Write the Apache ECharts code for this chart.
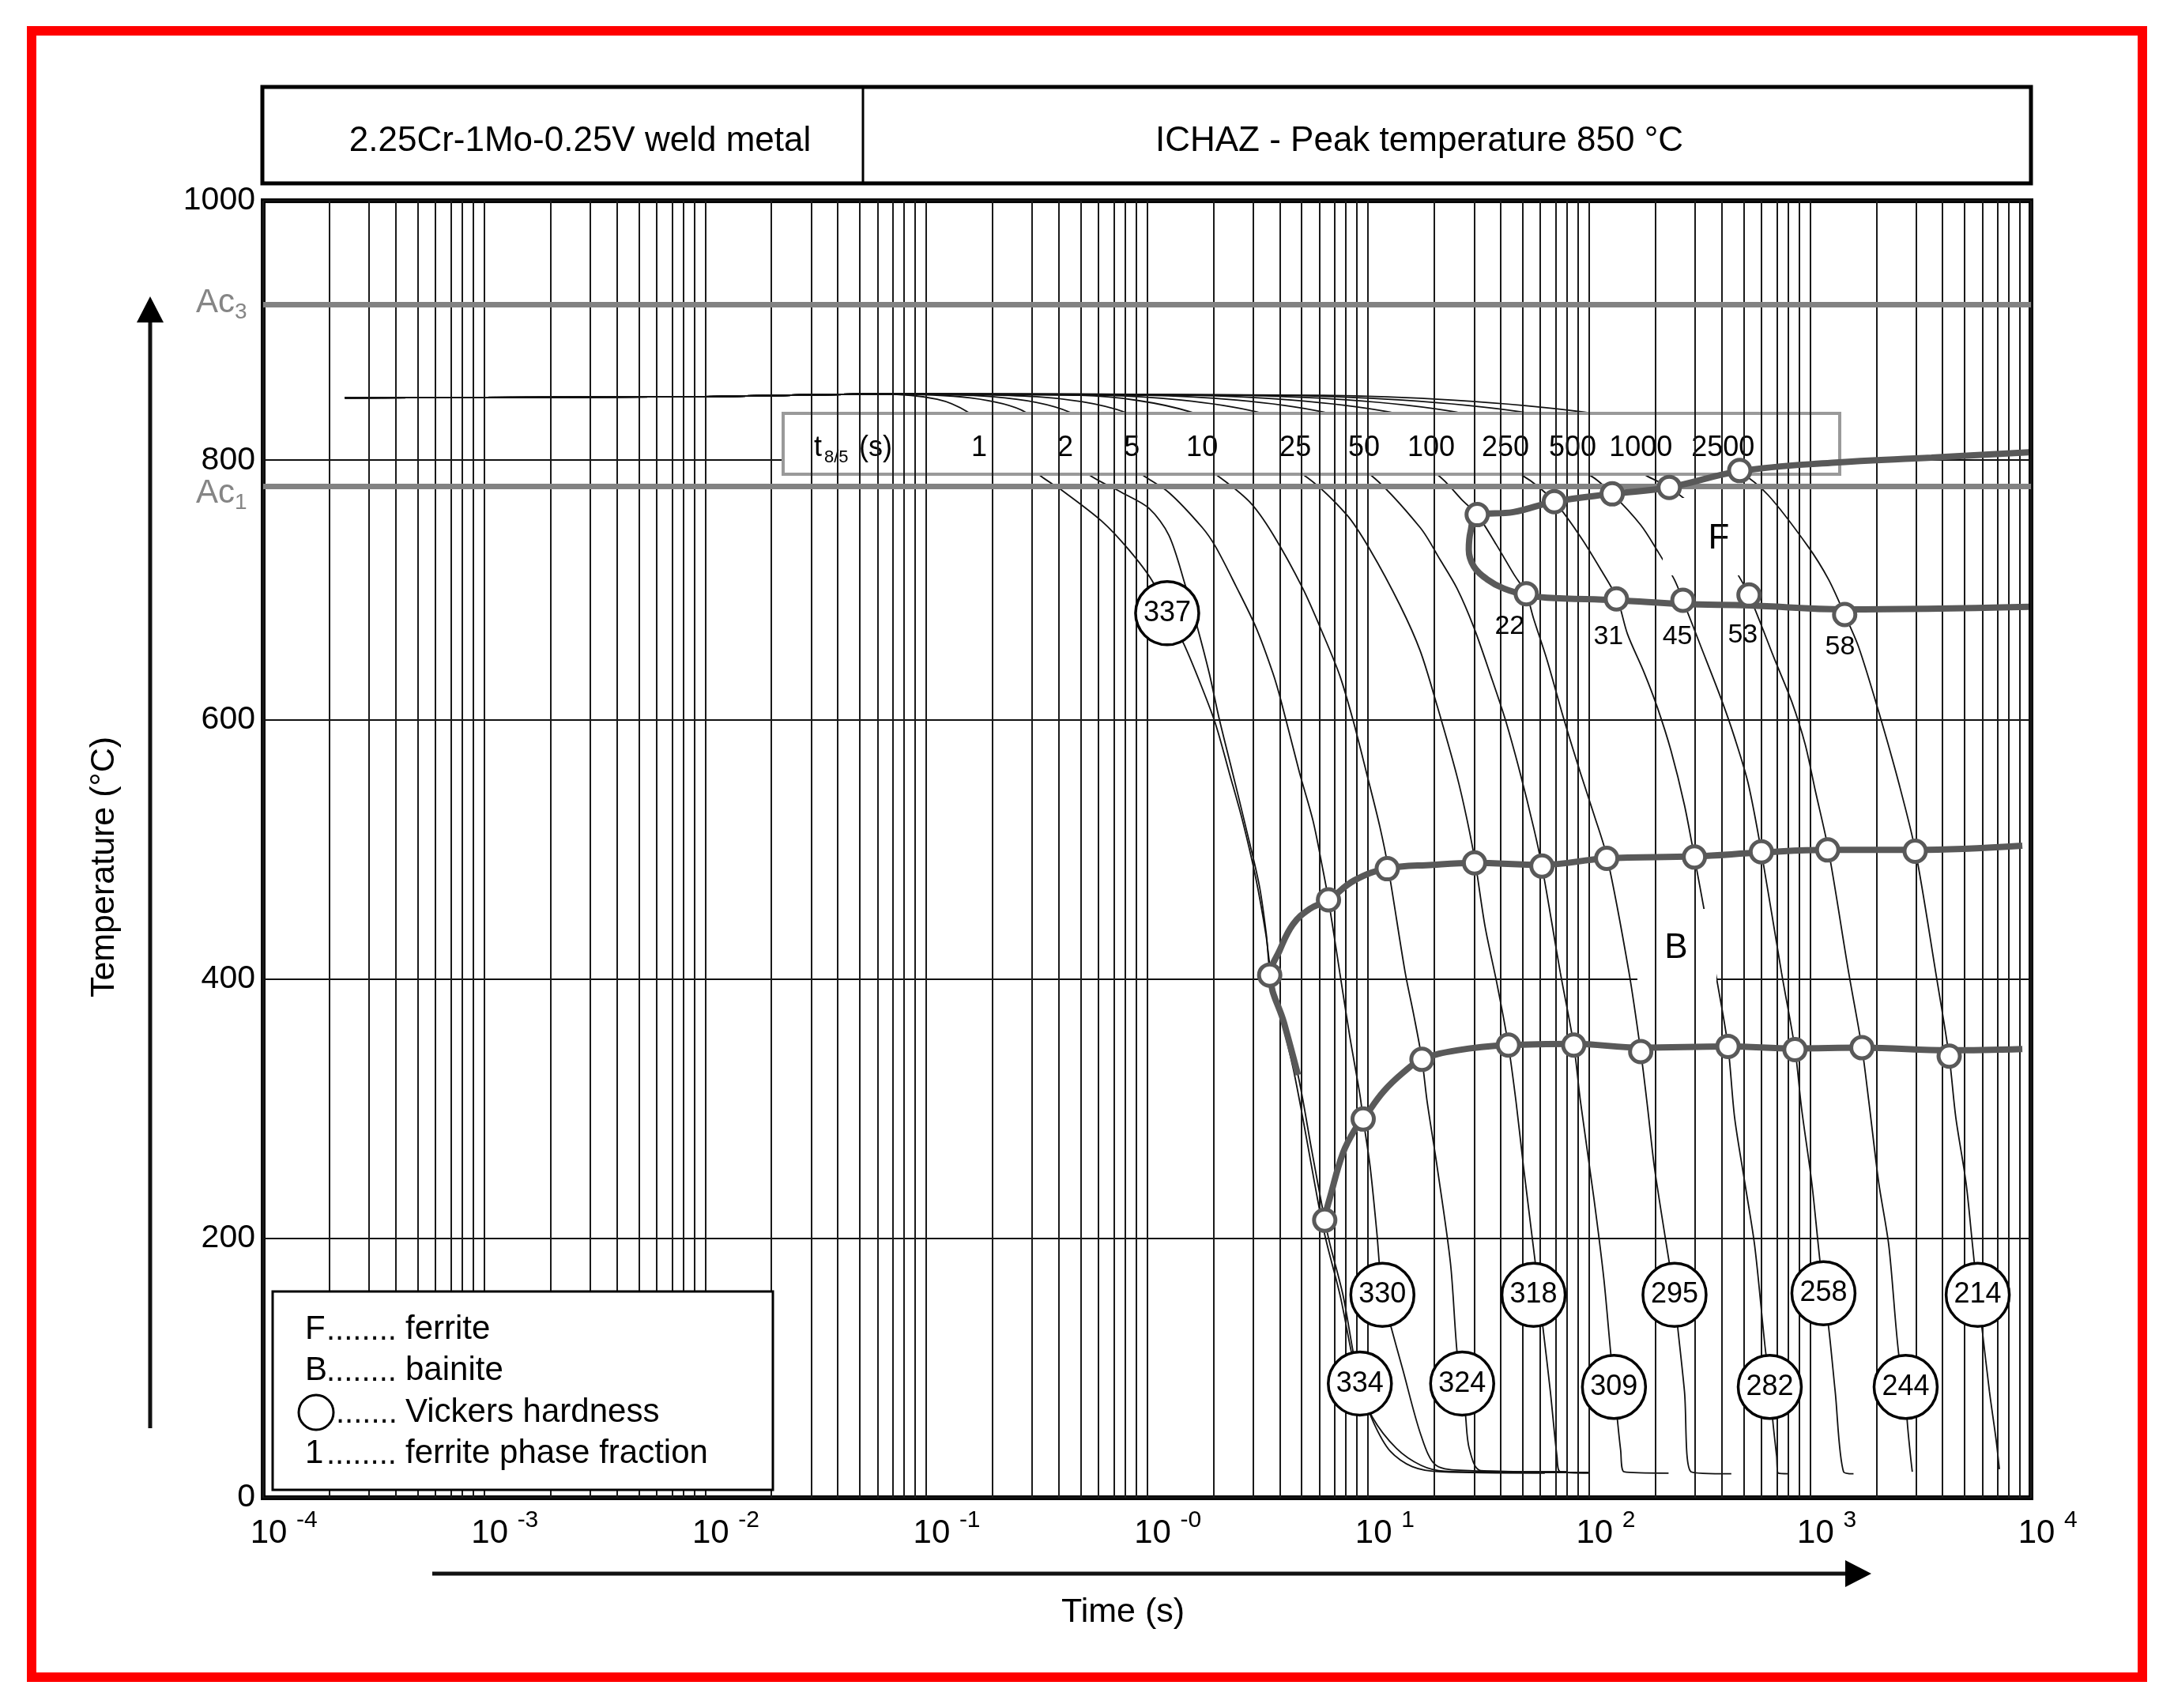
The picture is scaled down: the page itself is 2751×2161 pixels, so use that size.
<!DOCTYPE html>
<html>
<head>
<meta charset="utf-8">
<style>
  html, body { margin: 0; padding: 0; background: #fff; }
  #main { width: 2751px; height: 2161px; }
</style>
<script src="https://cdn.jsdelivr.net/npm/echarts/dist/echarts.min.js"></script>
</head>
<body>
<div id="main"></div>
<script>
// x values are log10(time / s), y values are temperature in °C
const xTickExp = ['-4', '-3', '-2', '-1', '-0', '1', '2', '3', '4']
const t85Labels = ['1', '2', '5', '10', '25', '50', '100', '250', '500', '1000', '2500']
const t85LabelX = [-0.76, -0.37, -0.069, 0.249, 0.671, 0.982, 1.286, 1.622, 1.926, 2.234, 2.606]
const ac3 = 920
const ac1 = 780

// cooling curves, one per t8/5
const curve1 = [[-3.63, 848], [-2.0, 849], [-1.2, 851], [-0.95, 847], [-0.81, 837], [-0.62, 812], [-0.49, 789], [-0.387, 777], [-0.205, 753], [-0.083, 731], [0.023, 707], [0.091, 682], [0.167, 658], [0.25, 624], [0.311, 596], [0.372, 559], [0.432, 522], [0.493, 477], [0.538, 434], [0.565, 400], [0.665, 328], [0.785, 218], [0.815, 195], [0.875, 155], [0.925, 112], [0.96, 88], [1.025, 58], [1.1, 36], [1.2, 24], [1.33, 20], [1.8, 19]]
const curve2 = [[-3.63, 848], [-2.0, 849], [-1.2, 851], [-0.8, 848], [-0.55, 837], [-0.4, 810], [-0.265, 789], [-0.114, 775], [0.008, 763], [0.099, 742], [0.174, 703], [0.228, 671], [0.281, 636], [0.326, 601], [0.387, 559], [0.447, 517], [0.508, 472], [0.54, 434], [0.558, 403], [0.62, 365], [0.683, 326], [0.745, 268], [0.804, 214], [0.827, 196], [0.887, 156], [0.933, 112], [0.963, 88], [1.02, 62], [1.129, 38], [1.24, 25], [1.347, 20.5], [1.8, 19.5], [2.0, 19.5]]
const curve3 = [[-3.63, 848], [-2.0, 849], [-1.2, 851], [-0.7, 849], [-0.35, 837], [-0.15, 808], [-0.023, 789], [0.099, 775], [0.25, 748], [0.311, 733], [0.402, 703], [0.493, 671], [0.569, 636], [0.607, 614], [0.69, 559], [0.751, 522], [0.796, 484], [0.821, 461], [0.872, 405], [0.918, 355], [0.963, 311], [0.978, 292], [1.009, 256], [1.039, 206], [1.065, 157], [1.102, 133], [1.157, 99], [1.24, 48], [1.308, 25], [1.458, 21], [1.9, 20]]
const curve4 = [[-3.63, 848], [-2.0, 849], [-1.2, 851], [-0.5, 849], [-0.1, 837], [0.12, 810], [0.311, 789], [0.463, 768], [0.569, 743], [0.705, 701], [0.796, 666], [0.872, 634], [0.933, 599], [0.993, 559], [1.054, 517], [1.092, 485], [1.168, 405], [1.206, 373], [1.244, 338], [1.267, 306], [1.312, 256], [1.373, 181], [1.403, 112], [1.426, 88], [1.441, 64], [1.458, 38], [1.51, 21], [1.9, 20]]
const curve5 = [[-3.63, 848], [-2.0, 849], [-1.2, 851], [-0.3, 850], [0.2, 837], [0.45, 810], [0.705, 789], [0.903, 758], [1.009, 731], [1.145, 688], [1.236, 653], [1.312, 611], [1.403, 556], [1.449, 522], [1.486, 489], [1.53, 440], [1.585, 395], [1.635, 349], [1.67, 305], [1.703, 256], [1.757, 181], [1.791, 132], [1.825, 82], [1.855, 32], [1.87, 20], [2.0, 19]]
const curve6 = [[-3.63, 848], [-2.0, 849], [-1.2, 851], [-0.2, 850], [0.5, 837], [0.78, 810], [1.009, 789], [1.236, 748], [1.327, 723], [1.403, 701], [1.479, 671], [1.555, 634], [1.623, 599], [1.688, 559], [1.749, 517], [1.787, 487], [1.83, 445], [1.87, 405], [1.931, 349], [1.961, 306], [2.022, 231], [2.067, 169], [2.098, 112], [2.128, 61], [2.143, 37], [2.159, 20], [2.36, 19]]
const curve7 = [[-3.63, 848], [-2.0, 849], [-1.2, 851], [0.0, 850], [0.8, 837], [1.05, 812], [1.312, 789], [1.433, 768], [1.494, 758], [1.58, 735], [1.66, 712], [1.716, 697], [1.749, 678], [1.81, 646], [1.885, 601], [1.961, 559], [2.022, 527], [2.083, 493], [2.181, 405], [2.234, 344], [2.265, 301], [2.295, 256], [2.34, 206], [2.386, 156], [2.401, 132], [2.432, 82], [2.462, 20], [2.644, 18.5]]
const curve8 = [[-3.63, 848], [-2.0, 849], [-1.2, 851], [0.2, 850], [1.1, 837], [1.4, 812], [1.7, 788], [1.843, 768], [1.961, 741], [2.052, 716], [2.128, 693], [2.174, 666], [2.25, 636], [2.31, 609], [2.371, 576], [2.432, 534], [2.477, 494], [2.53, 445], [2.583, 395], [2.629, 348], [2.659, 293], [2.705, 243], [2.75, 194], [2.795, 119], [2.818, 86], [2.833, 57], [2.849, 32], [2.856, 19], [2.902, 18.5]]
const curve9 = [[-3.63, 848], [-2.0, 849], [-1.2, 851], [0.4, 850], [1.4, 837], [1.7, 812], [2.007, 788], [2.105, 774], [2.234, 750], [2.31, 730], [2.386, 708], [2.427, 691], [2.507, 656], [2.598, 616], [2.659, 586], [2.72, 551], [2.78, 498], [2.871, 405], [2.932, 346], [2.962, 300], [3.008, 243], [3.038, 194], [3.061, 158], [3.084, 132], [3.114, 82], [3.152, 20], [3.197, 18.5]]
const curve10 = [[-3.63, 848], [-2.0, 849], [-1.2, 851], [0.6, 850], [1.7, 837], [2.0, 815], [2.26, 788], [2.363, 779], [2.477, 763], [2.568, 740], [2.659, 716], [2.724, 696], [2.841, 646], [2.917, 614], [2.978, 581], [3.023, 546], [3.084, 499], [3.175, 405], [3.235, 347], [3.266, 306], [3.311, 243], [3.357, 194], [3.402, 110], [3.433, 86], [3.44, 59], [3.455, 32], [3.463, 20]]
const curve11 = [[-3.63, 848], [-2.0, 849], [-1.2, 851], [0.8, 850], [1.98, 837], [2.35, 815], [2.6, 795], [2.682, 791], [2.811, 773], [2.993, 733], [3.084, 708], [3.157, 681], [3.22, 656], [3.311, 606], [3.402, 551], [3.478, 498], [3.569, 405], [3.63, 340], [3.66, 293], [3.706, 243], [3.736, 194], [3.759, 156], [3.781, 127], [3.812, 82], [3.842, 45], [3.857, 22]]

// transformation lines
const ferriteLine = [[3.99, 806], [3.55, 802], [3.1, 798], [2.682, 791.5], [2.363, 779], [2.105, 774], [1.843, 768], [1.658, 760], [1.494, 758], [1.464, 745], [1.456, 731], [1.479, 718], [1.54, 708], [1.615, 701], [1.716, 696], [1.81, 694], [2.128, 692], [2.427, 689], [2.724, 688], [3.157, 685], [3.99, 687]]
const bainiteStartLine = [[0.683, 326], [0.62, 366], [0.558, 403], [0.6, 422], [0.66, 442], [0.736, 454], [0.821, 461], [0.938, 476], [1.082, 485], [1.293, 488], [1.479, 489.5], [1.787, 488], [2.077, 493], [2.477, 494.5], [2.78, 497.5], [3.078, 499.5], [3.475, 499.5], [3.961, 502.7]]
const bainiteFinishLine = [[0.8, 214], [0.827, 231], [0.887, 266], [0.948, 286], [0.978, 292], [1.069, 313], [1.16, 328], [1.244, 338], [1.403, 345], [1.635, 349], [1.93, 350], [2.234, 347], [2.627, 348], [2.93, 346.5], [3.235, 347], [3.633, 345], [3.961, 346]]

const ferriteStartPts = [[1.494, 758], [1.843, 768], [2.105, 774], [2.363, 779], [2.682, 792]]
const ferriteFinishPts = [[1.716, 697], [2.124, 693], [2.425, 692], [2.724, 696], [3.157, 681]]
const bainiteStartPts = [[0.555, 403], [0.821, 461], [1.087, 485], [1.482, 489.5], [1.787, 487], [2.08, 493], [2.477, 494], [2.78, 498], [3.08, 499.5], [3.476, 498.5]]
const bainiteFinishPts = [[0.804, 214], [0.978, 292], [1.244, 338], [1.635, 349], [1.931, 349], [2.234, 344], [2.629, 348], [2.932, 345.5], [3.235, 347], [3.63, 340.5]]

const hardness = [337, 334, 330, 324, 318, 309, 295, 282, 258, 244, 214]
const hardnessPos = [[0.091, 682], [0.963, 88], [1.065, 156.5], [1.426, 88], [1.749, 156.5], [2.113, 85.5], [2.387, 156.4], [2.818, 85.5], [3.061, 157.7], [3.433, 85.5], [3.759, 156.4]]
const ferriteFraction = [22, 31, 45, 53, 58]
const ferriteFractionPos = [[1.641, 672], [2.088, 664], [2.4, 664], [2.696, 665], [3.136, 656]]

const FONT = '"Liberation Sans", Arial, Helvetica, sans-serif'
const coolingCurves = [curve1, curve2, curve3, curve4, curve5, curve6, curve7, curve8, curve9, curve10, curve11]

// vertical log grid lines: 1..9 x 10^d
const gridX = []
for (let d = -4; d < 4; d++) {
  for (let m = 1; m <= 9; m++) gridX.push(d + Math.log10(m))
}
gridX.push(4)

const chart = echarts.init(document.getElementById('main'))

const thickLine = (name, data) => ({
  name,
  type: 'line',
  data,
  z: 5,
  smooth: 0.4,
  showSymbol: false,
  silent: true,
  lineStyle: { width: 8, color: '#595959' }
})

const ringMarks = (data) => ({
  type: 'scatter',
  data,
  z: 6,
  symbol: 'circle',
  symbolSize: 27,
  silent: true,
  itemStyle: { color: '#fff', borderColor: '#595959', borderWidth: 5, opacity: 1 }
})

const option = {
  animation: false,
  backgroundColor: '#fff',
  grid: {
    left: 333,
    top: 254,
    width: 2237,
    height: 1641,
    show: true,
    borderColor: '#000',
    borderWidth: 6,
    backgroundColor: 'transparent'
  },
  xAxis: {
    type: 'value',
    min: -4,
    max: 4,
    interval: 1,
    axisLine: { show: false },
    axisTick: { show: false },
    axisLabel: { show: false },
    splitLine: { show: false }
  },
  yAxis: {
    type: 'value',
    min: 0,
    max: 1000,
    interval: 200,
    axisLine: { show: false },
    axisTick: { show: false },
    axisLabel: { fontSize: 41, color: '#000', margin: 10, fontFamily: FONT, formatter: v => String(v) },
    splitLine: { lineStyle: { color: '#111', width: 2 } }
  },
  series: [
    {
      type: 'line',
      data: [[-4, 0]],
      z: 1,
      showSymbol: false,
      silent: true,
      lineStyle: { width: 0 },
      markLine: {
        silent: true,
        symbol: ['none', 'none'],
        label: { show: false },
        lineStyle: { color: '#1a1a1a', width: 2, type: 'solid' },
        data: gridX.map(v => ({ xAxis: v }))
      }
    },
    {
      type: 'line',
      data: [[-4, 0]],
      z: 2,
      showSymbol: false,
      silent: true,
      lineStyle: { width: 0 },
      markLine: {
        silent: true,
        symbol: ['none', 'none'],
        label: { show: false },
        lineStyle: { color: '#828282', width: 7, type: 'solid' },
        data: [{ yAxis: ac3 }, { yAxis: ac1 }]
      }
    },
    ...coolingCurves.map((c, i) => ({
      name: 't85_' + t85Labels[i],
      type: 'line',
      data: c,
      z: 3,
      smooth: 0.3,
      showSymbol: false,
      silent: true,
      lineStyle: { width: 1.8, color: '#111' }
    })),
    thickLine('F', ferriteLine),
    thickLine('Bs', bainiteStartLine),
    thickLine('Bf', bainiteFinishLine),
    ringMarks(ferriteStartPts),
    ringMarks(ferriteFinishPts),
    ringMarks(bainiteStartPts),
    ringMarks(bainiteFinishPts),
    {
      type: 'scatter',
      data: hardnessPos.map((p, i) => ({ value: p, hv: hardness[i] })),
      z: 7,
      symbol: 'circle',
      symbolSize: 80,
      silent: true,
      itemStyle: { color: '#fff', borderColor: '#000', borderWidth: 3.5, opacity: 1 },
      label: {
        show: true,
        position: 'inside',
        formatter: p => String(p.data.hv),
        fontSize: 36,
        color: '#000',
        fontFamily: FONT
      }
    },
    {
      type: 'scatter',
      data: ferriteFractionPos.map((p, i) => ({ value: p, ff: ferriteFraction[i] })),
      z: 7,
      symbolSize: 1,
      silent: true,
      itemStyle: { color: 'rgba(0,0,0,0)', opacity: 1 },
      label: {
        show: true,
        position: 'inside',
        formatter: p => String(p.data.ff),
        fontSize: 34,
        color: '#000',
        opacity: 1,
        fontFamily: FONT
      }
    }
  ]
}

chart.setOption(option)

const px = (x, y) => chart.convertToPixel({ gridIndex: 0 }, [x, y])
const txt = (text, x, y, size, opts = {}) => ({
  type: 'text',
  x,
  y,
  z: opts.z || 8,
  rotation: opts.rotation || 0,
  silent: true,
  style: {
    text,
    font: size + 'px ' + FONT,
    fill: opts.color || '#000',
    align: opts.align || 'center',
    textAlign: opts.align || 'center',
    verticalAlign: 'middle',
    textVerticalAlign: 'middle'
  }
})

const g = []
// outer red frame
g.push({ type: 'rect', z: 9, silent: true, shape: { x: 40, y: 39, width: 2671, height: 2083 }, style: { fill: 'none', stroke: '#ff0000', lineWidth: 12 } })
// header boxes
g.push({ type: 'rect', z: 8, silent: true, shape: { x: 332, y: 110, width: 2238, height: 122 }, style: { fill: '#fff', stroke: '#000', lineWidth: 5 } })
g.push({ type: 'line', z: 8, silent: true, shape: { x1: 1092, y1: 110, x2: 1092, y2: 232 }, style: { stroke: '#000', lineWidth: 3 } })
g.push(txt('2.25Cr-1Mo-0.25V weld metal', 734, 179, 44))
g.push(txt('ICHAZ - Peak temperature 850 °C', 1796, 179, 44))

// t8/5 label box (covers the start of the cooling curves)
g.push({ type: 'rect', z: 4, silent: true, shape: { x: 991, y: 523, width: 1337, height: 77 }, style: { fill: '#fff', stroke: '#9a9a9a', lineWidth: 4 } })
const labelY = px(0, 809)[1]
g.push(txt('t', 1030, labelY, 36, { z: 4.5, align: 'left' }))
g.push(txt('8/5', 1043, labelY + 12, 22, { z: 4.5, align: 'left' }))
g.push(txt('(s)', 1087, labelY, 36, { z: 4.5, align: 'left' }))
t85Labels.forEach((s, i) => {
  g.push(txt(s, px(t85LabelX[i], 809)[0], labelY, 36, { z: 4.5 }))
})

// phase labels on white patches
g.push({ type: 'rect', z: 4, silent: true, shape: { x: 2104, y: 630, width: 126, height: 98 }, style: { fill: '#fff' } })
g.push(txt('F', 2175, 682, 44, { z: 4.5 }))
g.push({ type: 'rect', z: 4, silent: true, shape: { x: 2072, y: 1150, width: 100, height: 96 }, style: { fill: '#fff' } })
g.push(txt('B', 2121, 1200, 44, { z: 4.5 }))

// x axis labels 10^n
xTickExp.forEach((e, i) => {
  const x = px(i - 4, 0)[0]
  g.push(txt('10', x + 7, 1940, 42))
  g.push(txt(e, x + 42, 1924, 30, { align: 'left' }))
})

// Ac labels
g.push(txt('Ac', 248, px(0, ac3)[1] - 2, 42, { align: 'left', color: '#858585' }))
g.push(txt('3', 297, px(0, ac3)[1] + 10, 28, { align: 'left', color: '#858585' }))
g.push(txt('Ac', 248, px(0, ac1)[1] + 9, 42, { align: 'left', color: '#858585' }))
g.push(txt('1', 297, px(0, ac1)[1] + 21, 28, { align: 'left', color: '#858585' }))

// axis titles and arrows
g.push(txt('Temperature (°C)', 132, 1097, 43, { rotation: Math.PI / 2 }))
g.push({ type: 'line', z: 8, silent: true, shape: { x1: 190, y1: 1807, x2: 190, y2: 400 }, style: { stroke: '#111', lineWidth: 5 } })
g.push({ type: 'polygon', z: 8, silent: true, shape: { points: [[190, 375], [173, 408], [207, 408]] }, style: { fill: '#000' } })
g.push(txt('Time (s)', 1421, 2040, 43))
g.push({ type: 'line', z: 8, silent: true, shape: { x1: 547, y1: 1991, x2: 2338, y2: 1991 }, style: { stroke: '#111', lineWidth: 5 } })
g.push({ type: 'polygon', z: 8, silent: true, shape: { points: [[2368, 1991], [2335, 1974], [2335, 2008]] }, style: { fill: '#000' } })

// legend box
g.push({ type: 'rect', z: 8, silent: true, shape: { x: 345, y: 1634, width: 633, height: 251 }, style: { fill: '#fff', stroke: '#000', lineWidth: 3 } })
const legendRows = [
  { key: 'F', dots: '........', text: 'ferrite', y: 1682 },
  { key: 'B', dots: '........', text: 'bainite', y: 1734 },
  { key: '', dots: '.......', text: 'Vickers hardness', y: 1787 },
  { key: '1', dots: '........', text: 'ferrite phase fraction', y: 1839 }
]
legendRows.forEach(r => {
  if (r.key) g.push(txt(r.key, 386, r.y, 42, { align: 'left', z: 9 }))
  g.push(txt(r.dots, r.key ? 413 : 425, r.y + 2, 40, { align: 'left', z: 9 }))
  g.push(txt(r.text, 513, r.y, 42, { align: 'left', z: 9 }))
})
g.push({ type: 'circle', z: 9, silent: true, shape: { cx: 400, cy: 1787, r: 22 }, style: { fill: '#fff', stroke: '#000', lineWidth: 3 } })

chart.setOption({ graphic: g })
</script>
</body>
</html>
